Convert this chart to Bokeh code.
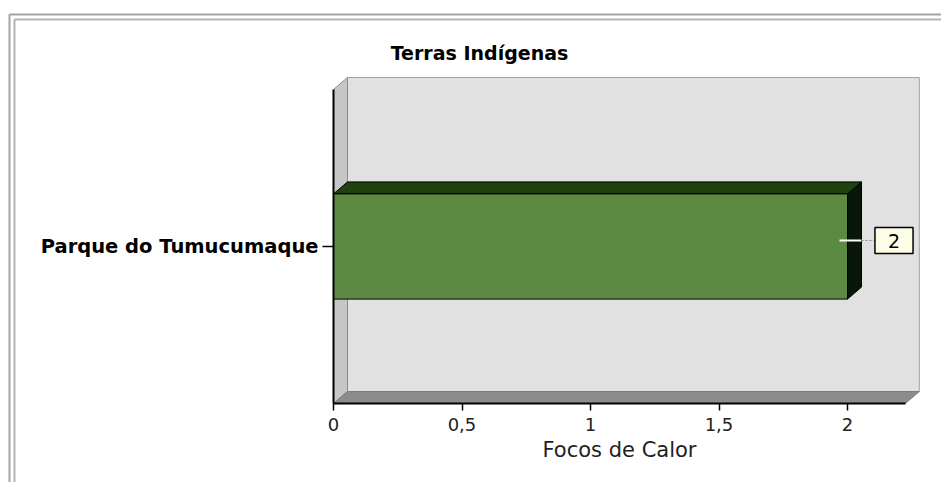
from bokeh.plotting import figure
from bokeh.models import FixedTicker
from bokeh.core.properties import value
from bokeh.embed import file_html
from bokeh.resources import INLINE

# ---------------- data ----------------
chart_title = "Terras Indígenas"
categories = ["Parque do Tumucumaque"]
focos_de_calor = [2]
x_ticks = [0, 0.5, 1, 1.5, 2]
x_tick_labels = ["0", "0,5", "1", "1,5", "2"]
x_axis_title = "Focos de Calor"
x_axis_max = 2.225

# ---------------- layout / style ----------------
W, H = 941, 482
PX_X, PX_Y = 257.0, 314.0          # pixels per data unit
OX, OY = 333, 403                  # canvas position of the data origin
DX, DY = 14 / PX_X, 12 / PX_Y      # 3-D depth offset
WALL_TOP = 1.0
BAR_H = 0.335
FONT = "DejaVu Sans"


def cx(px):
    return (px - OX) / PX_X


def cy(py):
    return (OY - py) / PX_Y


x_range = (cx(0), cx(W))
y_range = (cy(H), cy(0))

p = figure(width=W, height=H, x_range=x_range, y_range=y_range,
           output_backend="svg", toolbar_location=None, title_location=None,
           min_border=0, min_border_left=0, min_border_right=0,
           min_border_top=0, min_border_bottom=0)
p.background_fill_color = "white"
p.border_fill_color = "white"
p.outline_line_color = None
p.xgrid.visible = False
p.ygrid.visible = False

# outer double frame of the page
p.quad(left=[cx(9), cx(14)], right=[cx(W + 60)] * 2,
       top=[cy(14), cy(19)], bottom=[cy(H + 60)] * 2,
       fill_color=None, line_color=["#a4a4a4", "#b4b4b4"], line_width=2)

# 3-D chart box: back wall, left wall, floor
p.quad(left=[DX], right=[x_axis_max + DX], bottom=[DY], top=[WALL_TOP + DY],
       fill_color="#e1e1e1", line_color="#a2a2a2", line_width=1)
p.patch(x=[0, DX, DX, 0], y=[0, DY, WALL_TOP + DY, WALL_TOP],
        fill_color="#c6c6c6", line_color="#8a8a8a", line_width=1)
p.patch(x=[0, x_axis_max, x_axis_max + DX, DX], y=[0, 0, DY, DY],
        fill_color="#8c8c8c", line_color="#7c7c7c", line_width=1)

n = len(categories)
ypos = [1 - (i + 0.5) / n for i in range(n)]
bot = [y - BAR_H / 2 for y in ypos]
top = [y + BAR_H / 2 for y in ypos]

# bar side and top faces
side_xs = [[v, v + DX, v + DX, v] for v in focos_de_calor]
side_ys = [[b, b + DY, t + DY, t] for b, t in zip(bot, top)]
p.patches(xs=side_xs, ys=side_ys, fill_color="#08170a", line_color="black", line_width=1)
top_xs = [[0, v, v + DX, DX] for v in focos_de_calor]
top_ys = [[t, t, t + DY, t + DY] for t in top]
p.patches(xs=top_xs, ys=top_ys, fill_color="#1f420f", line_color="black", line_width=1)
# bar front face
p.hbar(y=ypos, left=0, right=focos_de_calor, height=BAR_H,
       fill_color="#5c8a42", line_color="black", line_width=1)

# value label leader and box
ly = [y + 6 / PX_Y for y in ypos]
p.segment(x0=[v - 8 / PX_X for v in focos_de_calor], x1=[v + DX for v in focos_de_calor],
          y0=ly, y1=ly, line_color="white", line_width=2)
p.segment(x0=[v + DX for v in focos_de_calor], x1=[v + 27 / PX_X for v in focos_de_calor],
          y0=ly, y1=ly, line_color="#8a8a8a", line_width=1, line_dash="2 2")
p.text(x=focos_de_calor, y=ypos, text=[str(v) for v in focos_de_calor],
       x_offset=46.5, y_offset=-6, text_align="center", text_baseline="middle",
       text_font=value(FONT), text_font_size="19px", text_color="black",
       background_fill_color="#fdfde6", border_line_color="black", border_line_width=1.5,
       padding=dict(left=13, right=13, top=6, bottom=6))

# chart title
p.text(x=[cx(479)], y=[cy(52)], text=[chart_title], text_align="center",
       text_baseline="middle", text_font=value(FONT), text_font_style="bold",
       text_font_size="19px", text_color="black")

# axes
xa = p.xaxis[0]
xa.fixed_location = 0
xa.bounds = (0, x_axis_max)
xa.ticker = FixedTicker(ticks=x_ticks)
xa.major_label_overrides = dict(zip(x_ticks, x_tick_labels))
xa.axis_line_color = "black"
xa.axis_line_width = 2
xa.major_tick_line_color = "black"
xa.major_tick_line_width = 1.5
xa.major_tick_out = 7
xa.major_tick_in = 0
xa.minor_tick_line_color = None
xa.major_label_standoff = 7
xa.major_label_text_font = FONT
xa.major_label_text_font_size = "18px"
xa.major_label_text_color = "#222222"
xa.axis_label = x_axis_title
xa.axis_label_text_font = FONT
xa.axis_label_text_font_size = "21px"
xa.axis_label_text_font_style = "normal"
xa.axis_label_text_color = "#222222"
xa.axis_label_standoff = 4

ya = p.yaxis[0]
ya.fixed_location = 0
ya.bounds = (0, WALL_TOP)
ya.ticker = FixedTicker(ticks=ypos)
ya.major_label_overrides = dict(zip(ypos, categories))
ya.axis_line_color = "black"
ya.axis_line_width = 2
ya.major_tick_line_color = "black"
ya.major_tick_line_width = 1.5
ya.major_tick_out = 11
ya.major_tick_in = 0
ya.minor_tick_line_color = None
ya.major_label_standoff = 4
ya.major_label_text_font = FONT
ya.major_label_text_font_size = "19.5px"
ya.major_label_text_font_style = "bold"
ya.major_label_text_color = "black"

open("out.html", "w").write(file_html(p, INLINE))
